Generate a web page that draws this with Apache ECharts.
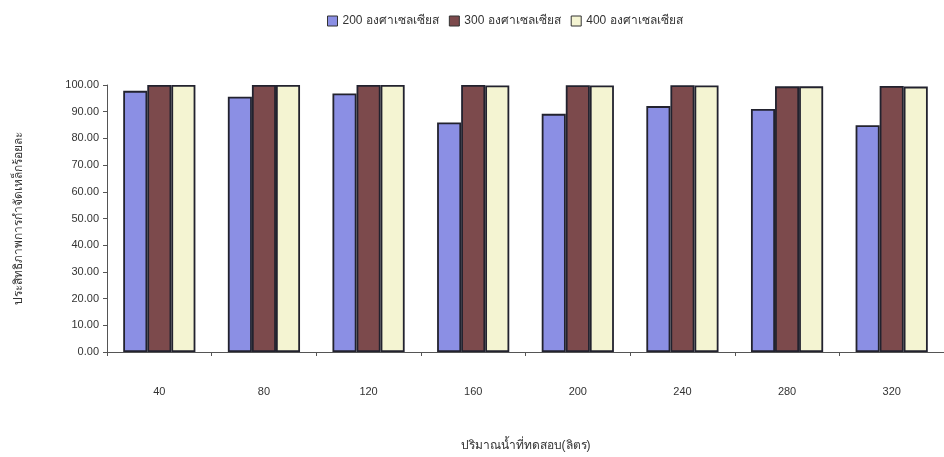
<!DOCTYPE html>
<html>
<head>
<meta charset="utf-8">
<script src="https://cdn.jsdelivr.net/npm/echarts@6/dist/echarts.min.js"></script>
<style>
  html, body { margin: 0; padding: 0; background: #fff; }
  #chart { width: 944px; height: 457px; }
</style>
</head>
<body>
<div id="chart"></div>
<script>
// Water volume tested (litres)
const categories = ['40', '80', '120', '160', '200', '240', '280', '320'];
// Iron removal efficiency (%) by calcination temperature
const series200 = [97.8, 95.6, 96.8, 86.0, 89.2, 92.1, 91.0, 84.9];
const series300 = [100.0, 100.0, 100.0, 100.0, 99.9, 99.9, 99.5, 99.6];
const series400 = [100.0, 100.0, 100.0, 99.8, 99.8, 99.8, 99.5, 99.4];
const seriesNames = ['200 องศาเซลเซียส', '300 องศาเซลเซียส', '400 องศาเซลเซียส'];
const seriesColors = ['#8b8fe4', '#7c4a4c', '#f4f4d2'];

const font = '"Liberation Sans", Arial, sans-serif';
const chart = echarts.init(document.getElementById('chart'), null, { renderer: 'canvas' });

const values = [series200, series300, series400];
chart.setOption({
  animation: false,
  backgroundColor: '#ffffff',
  textStyle: { fontFamily: font },
  legend: {
    top: 10,
    left: 322,
    icon: 'rect',
    itemWidth: 10,
    itemHeight: 10,
    itemGap: 10,
    textStyle: { fontSize: 12, color: '#333', fontFamily: font },
    data: seriesNames.map((n, i) => ({
      name: n,
      itemStyle: { color: seriesColors[i], borderColor: '#333', borderWidth: 1 }
    }))
  },
  grid: { left: 107, right: 0, top: 85, bottom: 103, containLabel: false },
  xAxis: {
    type: 'category',
    data: categories,
    name: 'ปริมาณน้ำที่ทดสอบ(ลิตร)',
    nameLocation: 'middle',
    nameGap: 88,
    nameTextStyle: { fontSize: 12, color: '#333', fontFamily: font },
    axisLine: { lineStyle: { color: '#555', width: 1 } },
    axisTick: { show: true, alignWithLabel: false, length: 4, lineStyle: { color: '#555' } },
    axisLabel: { margin: 34, fontSize: 11, color: '#333', fontFamily: font }
  },
  yAxis: {
    type: 'value',
    min: 0,
    max: 100,
    interval: 10,
    name: 'ประสิทธิภาพการกำจัดเหล็กร้อยละ',
    nameLocation: 'middle',
    nameGap: 82,
    nameTextStyle: { fontSize: 12, color: '#333', fontFamily: font },
    splitLine: { show: false },
    axisLine: { show: true, lineStyle: { color: '#555', width: 1 } },
    axisTick: { show: true, length: 4, lineStyle: { color: '#555' } },
    axisLabel: { margin: 8, fontSize: 11, color: '#333', fontFamily: font,
                 formatter: v => v.toFixed(2) }
  },
  series: seriesNames.map((n, i) => ({
    name: n,
    type: 'bar',
    data: values[i],
    barGap: '0%',
    barCategoryGap: '31%',
    itemStyle: { color: seriesColors[i], borderColor: '#22222e', borderWidth: 1.8 }
  }))
});
</script>
</body>
</html>
